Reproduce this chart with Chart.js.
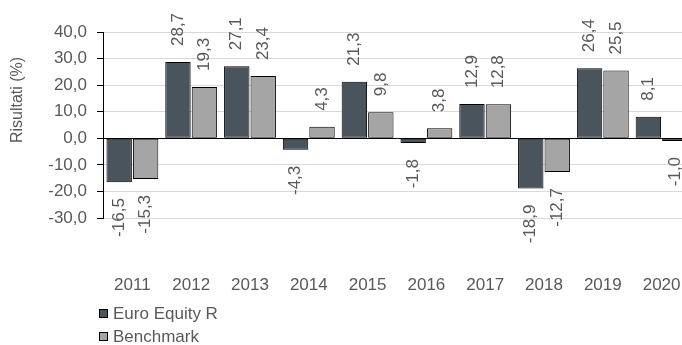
<!DOCTYPE html>
<html>
<head>
<meta charset="utf-8">
<script src="https://cdn.jsdelivr.net/npm/chart.js@4/dist/chart.umd.min.js"></script>
<style>
  html, body { margin: 0; padding: 0; background: #fff; overflow: hidden; }
  #wrap { position: relative; width: 692px; height: 345px; }
  #legend {
    position: absolute; left: 99px; top: 302px;
    font: 17px "Liberation Sans", Arial, sans-serif; color: #595959;
  }
  #legend .item { display: flex; align-items: center; height: 23px; }
  #legend .box { width: 7px; height: 7px; border: 1px solid #000; margin-right: 5px; }
</style>
</head>
<body>
<div id="wrap">
  <canvas id="myChart" width="692" height="345"></canvas>
  <div id="legend"></div>
</div>
<script>
// Annual returns, fund vs benchmark
const years = ['2011', '2012', '2013', '2014', '2015', '2016', '2017', '2018', '2019', '2020'];
const euroEquity = [-16.5, 28.7, 27.1, -4.3, 21.3, -1.8, 12.9, -18.9, 26.4, 8.1];
const benchmark = [-15.3, 19.3, 23.4, 4.3, 9.8, 3.8, 12.8, -12.7, 25.5, -1.0];
const yTicks = [-30, -20, -10, 0, 10, 20, 30, 40];

const textColor = '#595959';
const font = '"Liberation Sans", Arial, sans-serif';
const fmt = (v) => v.toFixed(1).replace('.', ',');

// rotated value labels above / below each bar
const valueLabels = {
  id: 'valueLabels',
  afterDatasetsDraw(chart) {
    const { ctx } = chart;
    ctx.save();
    ctx.font = '17px ' + font;
    ctx.fillStyle = textColor;
    ctx.textBaseline = 'middle';
    chart.data.datasets.forEach((ds, i) => {
      chart.getDatasetMeta(i).data.forEach((bar, j) => {
        const v = ds.data[j];
        const up = v >= 0;
        ctx.save();
        ctx.translate(bar.x, bar.y + (up ? -16 : 16));
        ctx.rotate(-Math.PI / 2);
        ctx.textAlign = up ? 'left' : 'right';
        ctx.fillText(fmt(v), 0, 0);
        ctx.restore();
      });
    });
    ctx.restore();
  },
};

// y axis title, sits a bit above the middle of the plot
const yTitle = {
  id: 'yTitle',
  afterDraw(chart) {
    const { ctx, chartArea } = chart;
    ctx.save();
    ctx.font = '16px ' + font;
    ctx.fillStyle = textColor;
    ctx.textAlign = 'center';
    ctx.textBaseline = 'middle';
    ctx.translate(18, chartArea.top + 68);
    ctx.rotate(-Math.PI / 2);
    ctx.fillText('Risultati (%)', 0, 0);
    ctx.restore();
  },
};

const chart = new Chart(document.getElementById('myChart'), {
  type: 'bar',
  data: {
    labels: years,
    datasets: [
      {
        label: 'Euro Equity R',
        data: euroEquity,
        backgroundColor: '#49545c',
        borderColor: '#000',
        borderWidth: 1,
        borderSkipped: false,
      },
      {
        label: 'Benchmark',
        data: benchmark,
        backgroundColor: '#a5a5a5',
        borderColor: '#000',
        borderWidth: 1,
        borderSkipped: false,
      },
    ],
  },
  options: {
    responsive: false,
    animation: false,
    categoryPercentage: 0.9,
    barPercentage: 0.96,
    layout: { padding: { top: 32, right: 1, bottom: 50, left: 0 } },
    plugins: {
      legend: { display: false },
      tooltip: { enabled: false },
    },
    scales: {
      x: {
        // big tick padding pushes the years down, but shouldn't eat width
        afterFit: (scale) => {
          scale.height = 77;
          scale.paddingLeft = 0;
          scale.paddingRight = 0;
        },
        grid: { display: false, drawTicks: false },
        border: { display: false },
        ticks: {
          color: textColor,
          font: { family: font, size: 17 },
          padding: 57,
          autoSkip: false,
          maxRotation: 0,
        },
      },
      y: {
        min: yTicks[0],
        max: yTicks[yTicks.length - 1],
        afterBuildTicks: (scale) => { scale.ticks = yTicks.map((v) => ({ value: v })); },
        afterFit: (scale) => { scale.width = 103; },
        grid: {
          color: (c) => (c.tick && c.tick.value === 0 ? '#000' : '#d9d9d9'),
          tickColor: '#000',
          tickLength: 6,
        },
        border: { display: true, color: '#000' },
        ticks: {
          color: textColor,
          font: { family: font, size: 17 },
          padding: 10,
          autoSkip: false,
          callback: (v) => fmt(v),
        },
      },
    },
  },
  plugins: [valueLabels, yTitle],
});

// html legend stacked under the axis
const legendEl = document.getElementById('legend');
chart.data.datasets.forEach((ds) => {
  const item = document.createElement('div');
  item.className = 'item';
  const box = document.createElement('span');
  box.className = 'box';
  box.style.background = ds.backgroundColor;
  item.appendChild(box);
  item.appendChild(document.createTextNode(ds.label));
  legendEl.appendChild(item);
});
</script>
</body>
</html>
